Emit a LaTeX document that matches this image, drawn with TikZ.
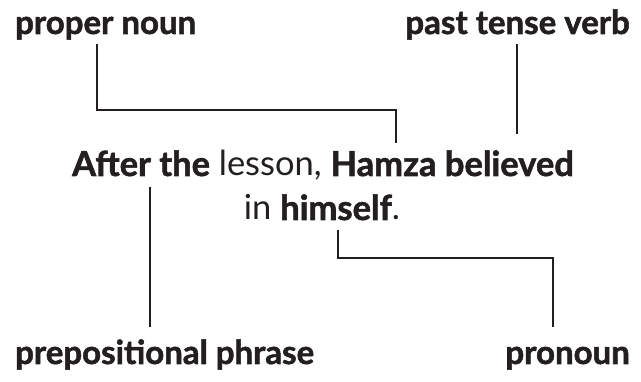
\documentclass[tikz,border=0pt]{standalone}
\usepackage{fontspec}
\setmainfont{Lato}[BoldFeatures={FakeBold=1.6}]
\definecolor{ink}{HTML}{231F20}
\begin{document}
\begin{tikzpicture}[x=1pt,y=-1pt,
  lbl/.style={inner sep=0pt,text=ink,font=\fontsize{33}{36}\selectfont\bfseries},
  sent/.style={inner sep=0pt,text=ink,font=\fontsize{34.5}{38}\selectfont},
  conn/.style={draw=ink,line width=2.2pt}]
\useasboundingbox (0,0) rectangle (641,382);
\node[lbl,anchor=base west] (pn) at (15,34) {proper noun};
\node[lbl,anchor=base east] (ptv) at (630,34) {past tense verb};
\node[lbl,anchor=base west] (pp) at (15,364) {prepositional phrase};
\node[lbl,anchor=base east] (pr) at (630,364) {pronoun};
\node[sent,anchor=base] (s1) at (323,176) {\textbf{After the} lesson, \textbf{Hamza believed}};
\node[sent,anchor=base] (s2) at (322,220) {in \textbf{himself}.};
\coordinate (a1) at (97,44);
\coordinate (a2) at (396,143);
\coordinate (b1) at (517,44);
\coordinate (b2) at (517,134);
\coordinate (c1) at (150,187);
\coordinate (c2) at (150,327);
\coordinate (d1) at (338,230);
\coordinate (d2) at (553,327);
\draw[conn] (a1) |- (396,110) -- (a2);
\draw[conn] (b1) -- (b2);
\draw[conn] (c1) -- (c2);
\draw[conn] (d1) |- (553,258) -- (d2);
\end{tikzpicture}
\end{document}
